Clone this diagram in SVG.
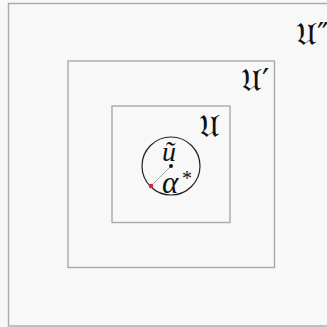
<svg xmlns="http://www.w3.org/2000/svg" width="327" height="327" viewBox="0 0 327 327">
<style>
.box{fill:none;stroke:#a9a9a9;stroke-width:1.4}
.lbl{font-family:"DejaVu Serif","DejaVu Sans","Liberation Serif",serif;font-size:32px;fill:#111}
.math{font-family:"Liberation Serif","DejaVu Serif",serif;font-style:italic;fill:#111}
</style>
<rect x="0" y="0" width="327" height="327" fill="#f8f8f8"/>
<g id="outer"><rect x="8.5" y="3.5" width="330" height="322.5" fill="#f2f2f2" class="box"/><text class="lbl" x="296" y="45">𝔘″</text></g>
<g id="middle"><rect x="68" y="61" width="206.5" height="206.5" class="box"/><text class="lbl" x="241" y="91">𝔘′</text></g>
<g id="inner"><rect x="112" y="106" width="118" height="116.5" class="box"/><text class="lbl" x="199" y="137">𝔘</text></g>
<g id="ball">
<circle cx="171" cy="166" r="29" fill="none" stroke="#222" stroke-width="1.2"/>
<line x1="171" y1="166" x2="151" y2="186" stroke="#7a9a8a" stroke-width="0.8"/>
<circle cx="171" cy="166" r="2" fill="#111"/>
<circle cx="151" cy="186" r="2.3" fill="#e0203a"/>
<text class="math" x="162" y="161" font-size="28">ũ</text>
<text class="math" x="162" y="193" font-size="31">α</text>
<text x="182" y="185" font-family="Liberation Serif,serif" font-size="20" fill="#111">*</text>
</g>
</svg>
